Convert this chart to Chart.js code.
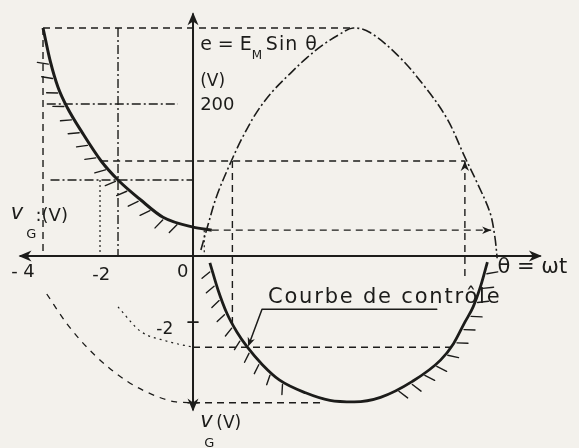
<!DOCTYPE html>
<html>
<head>
<meta charset="utf-8">
<script src="https://cdn.jsdelivr.net/npm/chart.js@4.4.1/dist/chart.umd.min.js"></script>
<style>
  html, body { margin: 0; padding: 0; background: #f3f1ec; }
  canvas { display: block; }
</style>
</head>
<body>
<canvas id="graphe" width="579" height="448"></canvas>
<script>
// Caractéristique de commande v_G (quadrant gauche, v_G en abscisse)
const commandeX = [-4, -3.8, -3.6, -3.35, -2.95, -2.45, -2, -1.4, -0.8, 0, 0.5];
const commandeY = [300, 255, 222, 195, 162, 125, 100, 74, 51, 38, 34];

// e = E_M sin θ
const sinusX = [0.21, 0.4, 0.64, 1.04, 1.33, 1.71, 2.13, 2.59, 3.04, 3.47, 3.92, 4.27, 4.72, 5.44, 6.13, 6.77, 7.25, 7.57, 7.92, 8.05, 8.11];
const sinusY = [8, 41, 80, 127, 157, 190, 217, 240, 261, 278, 292, 300, 294, 265, 226, 181, 130, 97, 57, 25, -3];

// courbe de contrôle (demi-plan inférieur)
const controleX = [0.45, 0.67, 0.9, 1.17, 1.45, 1.85, 2.3, 3.0, 3.65, 4.3, 5.0, 5.85, 6.6, 6.95, 7.25, 7.47, 7.68, 7.85];
const controleY = [-9, -45, -75, -100, -120, -143, -163, -180, -190, -192, -186, -165, -137, -115, -87, -67, -38, -8];

// report de v_G sur l'axe vertical descendant
const reportGrandX = [-3.9, -3.35, -2.65, -1.75, -0.95, -0.45, 0];
const reportGrandY = [-50, -90, -129, -165, -185, -192, -193];
const reportPetitX = [-2, -1.4, -0.7, 0];
const reportPetitY = [-67, -99, -112, -120];

// traits de construction : [x1, y1, x2, y2]
const tiretsLongs = [
  [-4, 300, 4.25, 300],
  [-4, 300, -4, 0],
  [-2.45, 125, 7.25, 125],
  [1.05, 125, 1.05, -95],
  [7.25, 125, 7.25, -30],
  [0.5, 34, 7.95, 34],
  [0, -120, 6.95, -120],
  [0, -193, 3.4, -193]
];
const traitsMixtes = [
  [-2, 300, -2, 0],
  [-3.9, 200, -0.4, 200],
  [-3.8, 100, 0, 100]
];
const pointilles = [
  [-2.48, 100, -2.48, 0],
  [0.3, 34, 0.3, 0]
];

// étendue des axes
const axeH = [-4.6, 9.25];
const axeV = [-202, 318];

const ENCRE = '#1c1c1a';
const POLICE = "'DejaVu Sans', sans-serif";

const pts = (xs, ys) => xs.map((v, i) => ({ x: v, y: ys[i] }));

function courbe(xs, ys, largeur, tirets, lisse) {
  return {
    data: pts(xs, ys),
    showLine: true,
    borderColor: ENCRE,
    borderWidth: largeur,
    borderDash: tirets || [],
    pointRadius: 0,
    tension: lisse ? 0.35 : 0.4,
    cubicInterpolationMode: lisse ? 'default' : 'monotone'
  };
}

function segment(s, largeur, tirets) {
  return {
    data: [{ x: s[0], y: s[1] }, { x: s[2], y: s[3] }],
    showLine: true,
    borderColor: ENCRE,
    borderWidth: largeur,
    borderDash: tirets,
    pointRadius: 0
  };
}

const datasets = [
  ...tiretsLongs.map(s => segment(s, 1.4, [7, 5])),
  ...traitsMixtes.map(s => segment(s, 1.4, [9, 3, 2, 3])),
  ...pointilles.map(s => segment(s, 1.2, [2, 3])),
  courbe(reportGrandX, reportGrandY, 1.3, [6, 6]),
  courbe(reportPetitX, reportPetitY, 1.2, [2, 4]),
  courbe(sinusX, sinusY, 1.6, [10, 3, 2, 3], true),
  courbe(commandeX, commandeY, 3),
  courbe(controleX, controleY, 2.8)
];

function fleche(ctx, x, y, angle, taille) {
  ctx.save();
  ctx.translate(x, y);
  ctx.rotate(angle);
  ctx.beginPath();
  ctx.moveTo(0, 0);
  ctx.lineTo(-taille, -taille * 0.42);
  ctx.lineTo(-taille * 0.7, 0);
  ctx.lineTo(-taille, taille * 0.42);
  ctx.closePath();
  ctx.fill();
  ctx.restore();
}

// petites hachures le long d'une courbe, côté extérieur
function hachures(ctx, xs, ys, X, Y, de, a, pas, long, incl) {
  const p = xs.map((v, i) => [X(v), Y(ys[i])]);
  let reste = pas / 2;
  ctx.beginPath();
  for (let i = 0; i < p.length - 1; i++) {
    const [x0, y0] = p[i], [x1, y1] = p[i + 1];
    const L = Math.hypot(x1 - x0, y1 - y0);
    const tx = (x1 - x0) / L, ty = (y1 - y0) / L;
    const nx = -ty, ny = tx;
    const dx = nx * Math.cos(incl) + tx * Math.sin(incl);
    const dy = ny * Math.cos(incl) + ty * Math.sin(incl);
    let s = reste;
    while (s < L) {
      const v = xs[i] + (xs[i + 1] - xs[i]) * s / L;
      if (v >= de && v <= a) {
        const px = x0 + tx * s, py = y0 + ty * s;
        ctx.moveTo(px + dx * 3, py + dy * 3);
        ctx.lineTo(px + dx * (3 + long), py + dy * (3 + long));
      }
      s += pas;
    }
    reste = s - L;
  }
  ctx.stroke();
}

const croquis = {
  id: 'croquis',
  afterDatasetsDraw(chart) {
    const { ctx, scales: { x, y } } = chart;
    const X = v => x.getPixelForValue(v);
    const Y = v => y.getPixelForValue(v);
    ctx.save();
    ctx.strokeStyle = ENCRE;
    ctx.fillStyle = ENCRE;
    ctx.lineCap = 'round';

    // axes
    ctx.lineWidth = 2;
    ctx.beginPath();
    ctx.moveTo(X(axeH[0]), Y(0));
    ctx.lineTo(X(axeH[1]), Y(0));
    ctx.moveTo(X(0), Y(axeV[0]));
    ctx.lineTo(X(0), Y(axeV[1]));
    ctx.stroke();
    fleche(ctx, X(axeH[0]) - 2, Y(0), Math.PI, 13);
    fleche(ctx, X(axeH[1]) + 2, Y(0), 0, 13);
    fleche(ctx, X(0), Y(axeV[1]) - 2, -Math.PI / 2, 13);
    fleche(ctx, X(0), Y(axeV[0]) + 2, Math.PI / 2, 13);
    fleche(ctx, X(7.25), Y(125), -Math.PI / 2, 10);
    fleche(ctx, X(7.95), Y(34), 0, 9);

    // graduations sur l'axe descendant
    ctx.lineWidth = 1.6;
    ctx.beginPath();
    ctx.moveTo(X(0) - 5, Y(-87));
    ctx.lineTo(X(0) + 5, Y(-87));
    ctx.moveTo(X(0) - 5, Y(-193));
    ctx.lineTo(X(0) + 5, Y(-193));
    ctx.stroke();

    // hachures
    ctx.lineWidth = 1.4;
    hachures(ctx, commandeX, commandeY, X, Y, -3.8, -0.1, 15, 11, -0.45);
    hachures(ctx, controleX, controleY, X, Y, 0.5, 2.7, 15, 10, 0.4);
    hachures(ctx, controleX, controleY, X, Y, 5.3, 7.8, 15, 11, 0.45);

    // textes
    const ecrire = (t, vx, vy, taille, style, espace) => {
      ctx.font = (style || '') + ' ' + taille + 'px ' + POLICE;
      ctx.letterSpacing = (espace || 0) + 'px';
      ctx.fillText(t, X(vx), Y(vy));
      const w = ctx.measureText(t).width;
      ctx.letterSpacing = '0px';
      return w;
    };
    ctx.textBaseline = 'alphabetic';
    ctx.textAlign = 'left';

    let w = ecrire('e = E', 0.19, 271, 19);
    ctx.font = '12px ' + POLICE;
    ctx.fillText('M', X(0.19) + w, Y(271) + 9);
    ecrire('Sin θ', 0.19 + (w + 14) / 37.5, 271, 19, '', 1);
    ecrire('(V)', 0.19, 224, 17);
    ecrire('200', 0.19, 192, 18);

    ecrire('v', -4.86, 49, 21, 'italic');
    ecrire('G', -4.45, 24, 13);
    ecrire(':(V)', -4.2, 46, 18);

    ecrire('- 4', -4.85, -28, 18);
    ecrire('-2', -2.69, -32, 18);
    ecrire('0', -0.43, -28, 18);
    ecrire('-2', -0.98, -103, 17);

    ecrire('v', 0.19, -225, 21, 'italic');
    ecrire('(V)', 0.62, -226, 17);
    ecrire('G', 0.3, -251, 13);

    ecrire('θ = ωt', 8.12, -22, 21);

    ecrire('Courbe de contrôle', 2.0, -62, 21, '', 1.8);
    ctx.lineWidth = 1.5;
    ctx.beginPath();
    ctx.moveTo(X(1.84), Y(-70));
    ctx.lineTo(X(6.5), Y(-70));
    ctx.moveTo(X(1.84), Y(-70));
    ctx.lineTo(X(1.5), Y(-115));
    ctx.stroke();
    fleche(ctx, X(1.47), Y(-119), Math.atan2(Y(-119) - Y(-70), X(1.47) - X(1.84)), 9);

    ctx.restore();
  }
};

new Chart(document.getElementById('graphe'), {
  type: 'scatter',
  data: { datasets },
  options: {
    responsive: false,
    animation: false,
    layout: { padding: 0 },
    plugins: { legend: { display: false }, tooltip: { enabled: false } },
    scales: {
      x: { type: 'linear', min: -5.147, max: 10.293, display: false },
      y: { type: 'linear', min: -252.6, max: 336.8, display: false }
    }
  },
  plugins: [croquis]
});
</script>
</body>
</html>
